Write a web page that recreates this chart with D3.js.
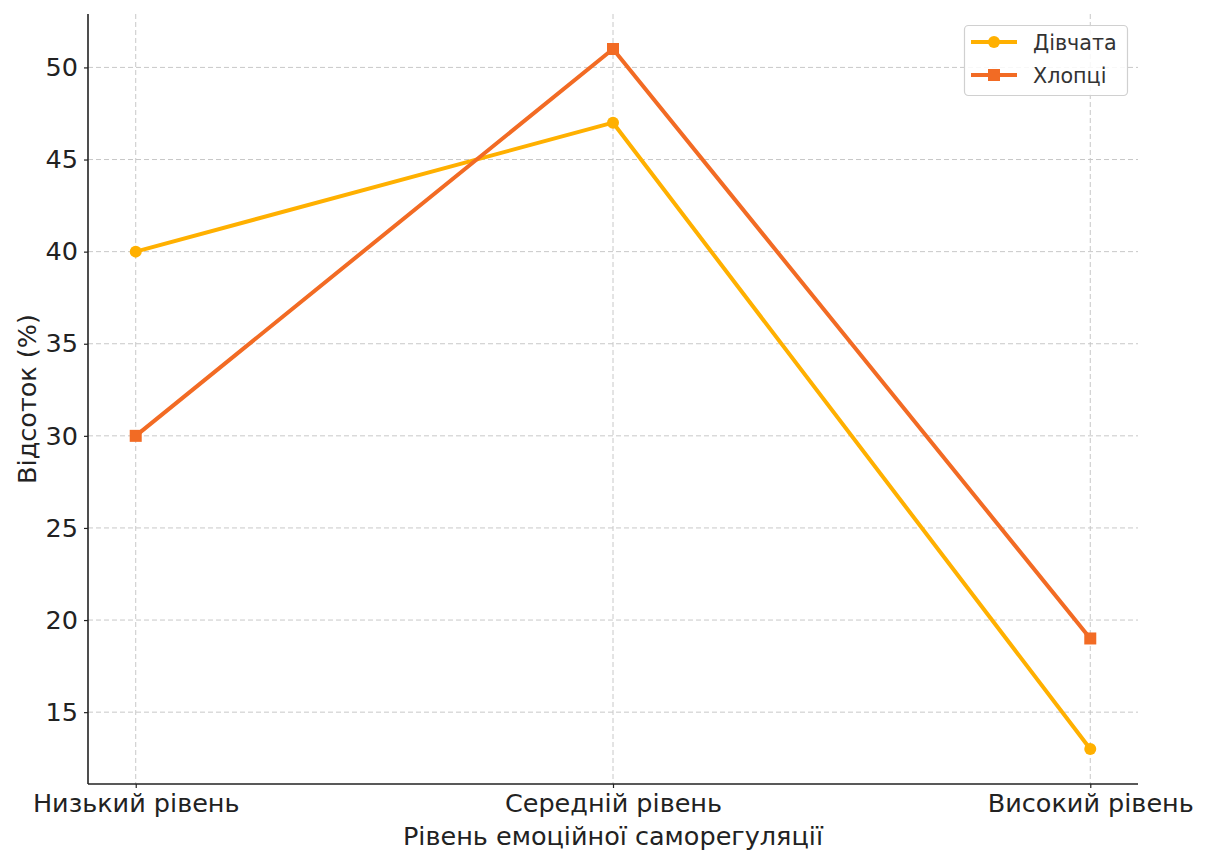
<!DOCTYPE html>
<html>
<head>
<meta charset="utf-8">
<script src="https://cdn.jsdelivr.net/npm/d3@7"></script>
<style>
  html, body { margin: 0; padding: 0; background: #fff; }
  svg { display: block; font-family: "DejaVu Sans", sans-serif; }
</style>
</head>
<body>
<svg id="chart" width="1205" height="850"></svg>
<script>
// Levels of emotional self-regulation and the share (%) of each group
const categories = ["Низький рівень", "Середній рівень", "Високий рівень"];
const girls = [40, 47, 13];
const boys = [30, 51, 19];
const yTicks = [15, 20, 25, 30, 35, 40, 45, 50];
const seriesNames = ["Дівчата", "Хлопці"];
const xTitle = "Рівень емоційної саморегуляції";
const yTitle = "Відсоток (%)";

const colors = ["#FFB000", "#F26B24"];

const svg = d3.select("#chart");
const margin = { left: 88, right: 1138, top: 14, bottom: 784 };

const x = d3.scaleLinear().domain([-0.1, 2.1]).range([margin.left, margin.right]);
const allVals = girls.concat(boys);
const lo = d3.min(allVals), hi = d3.max(allVals), pad = (hi - lo) * 0.05;
const y = d3.scaleLinear().domain([lo - pad, hi + pad]).range([margin.bottom, margin.top]);

// grid
const grid = svg.append("g");
grid.selectAll("line.h").data(yTicks).join("line")
  .attr("x1", margin.left).attr("x2", margin.right)
  .attr("y1", d => y(d)).attr("y2", d => y(d))
  .attr("stroke", "#c8c8c8").attr("stroke-width", 1).attr("stroke-dasharray", "5,3");
grid.selectAll("line.v").data(categories.map((c, i) => i)).join("line")
  .attr("x1", d => x(d)).attr("x2", d => x(d))
  .attr("y1", margin.top).attr("y2", margin.bottom)
  .attr("stroke", "#c8c8c8").attr("stroke-width", 1).attr("stroke-dasharray", "5,3");

// axes
const yAxis = d3.axisLeft(y).tickValues(yTicks).tickSize(4).tickPadding(6);
const gy = svg.append("g").attr("transform", `translate(${margin.left},0)`).call(yAxis);
const xAxis = d3.axisBottom(x).tickValues([0, 1, 2]).tickFormat(i => categories[i]).tickSize(4).tickPadding(6);
const gx = svg.append("g").attr("transform", `translate(0,${margin.bottom})`).call(xAxis);
[gx, gy].forEach(g => {
  g.select(".domain").attr("stroke", "#222").attr("stroke-width", 1.6);
  g.selectAll(".tick line").attr("stroke", "#222").attr("stroke-width", 1.2);
  g.selectAll(".tick text").attr("fill", "#222").style("font-size", "25.5px").style("font-family", "DejaVu Sans");
});
gy.select(".domain").attr("d", `M0,${margin.bottom}V${margin.top}`);
gx.select(".domain").attr("d", `M${margin.left},0H${margin.right}`);

// axis titles
svg.append("text").attr("x", (margin.left + margin.right) / 2).attr("y", 845)
  .attr("text-anchor", "middle").attr("fill", "#222").style("font-size", "25.5px").text(xTitle);
svg.append("text").attr("transform", `translate(36,${(margin.top + margin.bottom) / 2}) rotate(-90)`)
  .attr("text-anchor", "middle").attr("fill", "#222").style("font-size", "25.5px").text(yTitle);

// lines
const line = d3.line().x((d, i) => x(i)).y(d => y(d));
const series = [girls, boys];
series.forEach((vals, s) => {
  svg.append("path").datum(vals).attr("d", line).attr("fill", "none")
    .attr("stroke", colors[s]).attr("stroke-width", 4).attr("stroke-linejoin", "round");
});
// markers
svg.selectAll("circle.g").data(girls).join("circle")
  .attr("cx", (d, i) => x(i)).attr("cy", d => y(d)).attr("r", 6).attr("fill", colors[0]);
svg.selectAll("rect.b").data(boys).join("rect")
  .attr("x", (d, i) => x(i) - 6).attr("y", d => y(d) - 6).attr("width", 12).attr("height", 12).attr("fill", colors[1]);

// legend
const lg = svg.append("g");
lg.append("rect").attr("x", 964.5).attr("y", 25.5).attr("width", 163).attr("height", 70).attr("rx", 4)
  .attr("fill", "#fff").attr("fill-opacity", 0.85).attr("stroke", "#d0d0d0").attr("stroke-width", 1.2);
seriesNames.forEach((name, s) => {
  const yy = 42 + s * 33;
  lg.append("line").attr("x1", 971).attr("x2", 1017).attr("y1", yy).attr("y2", yy)
    .attr("stroke", colors[s]).attr("stroke-width", 4);
  if (s === 0) lg.append("circle").attr("cx", 994).attr("cy", yy).attr("r", 6).attr("fill", colors[s]);
  else lg.append("rect").attr("x", 988).attr("y", yy - 6).attr("width", 12).attr("height", 12).attr("fill", colors[s]);
  lg.append("text").attr("x", 1033).attr("y", yy + 7.5).attr("fill", "#333").style("font-size", "20.7px").text(name);
});
</script>
</body>
</html>
